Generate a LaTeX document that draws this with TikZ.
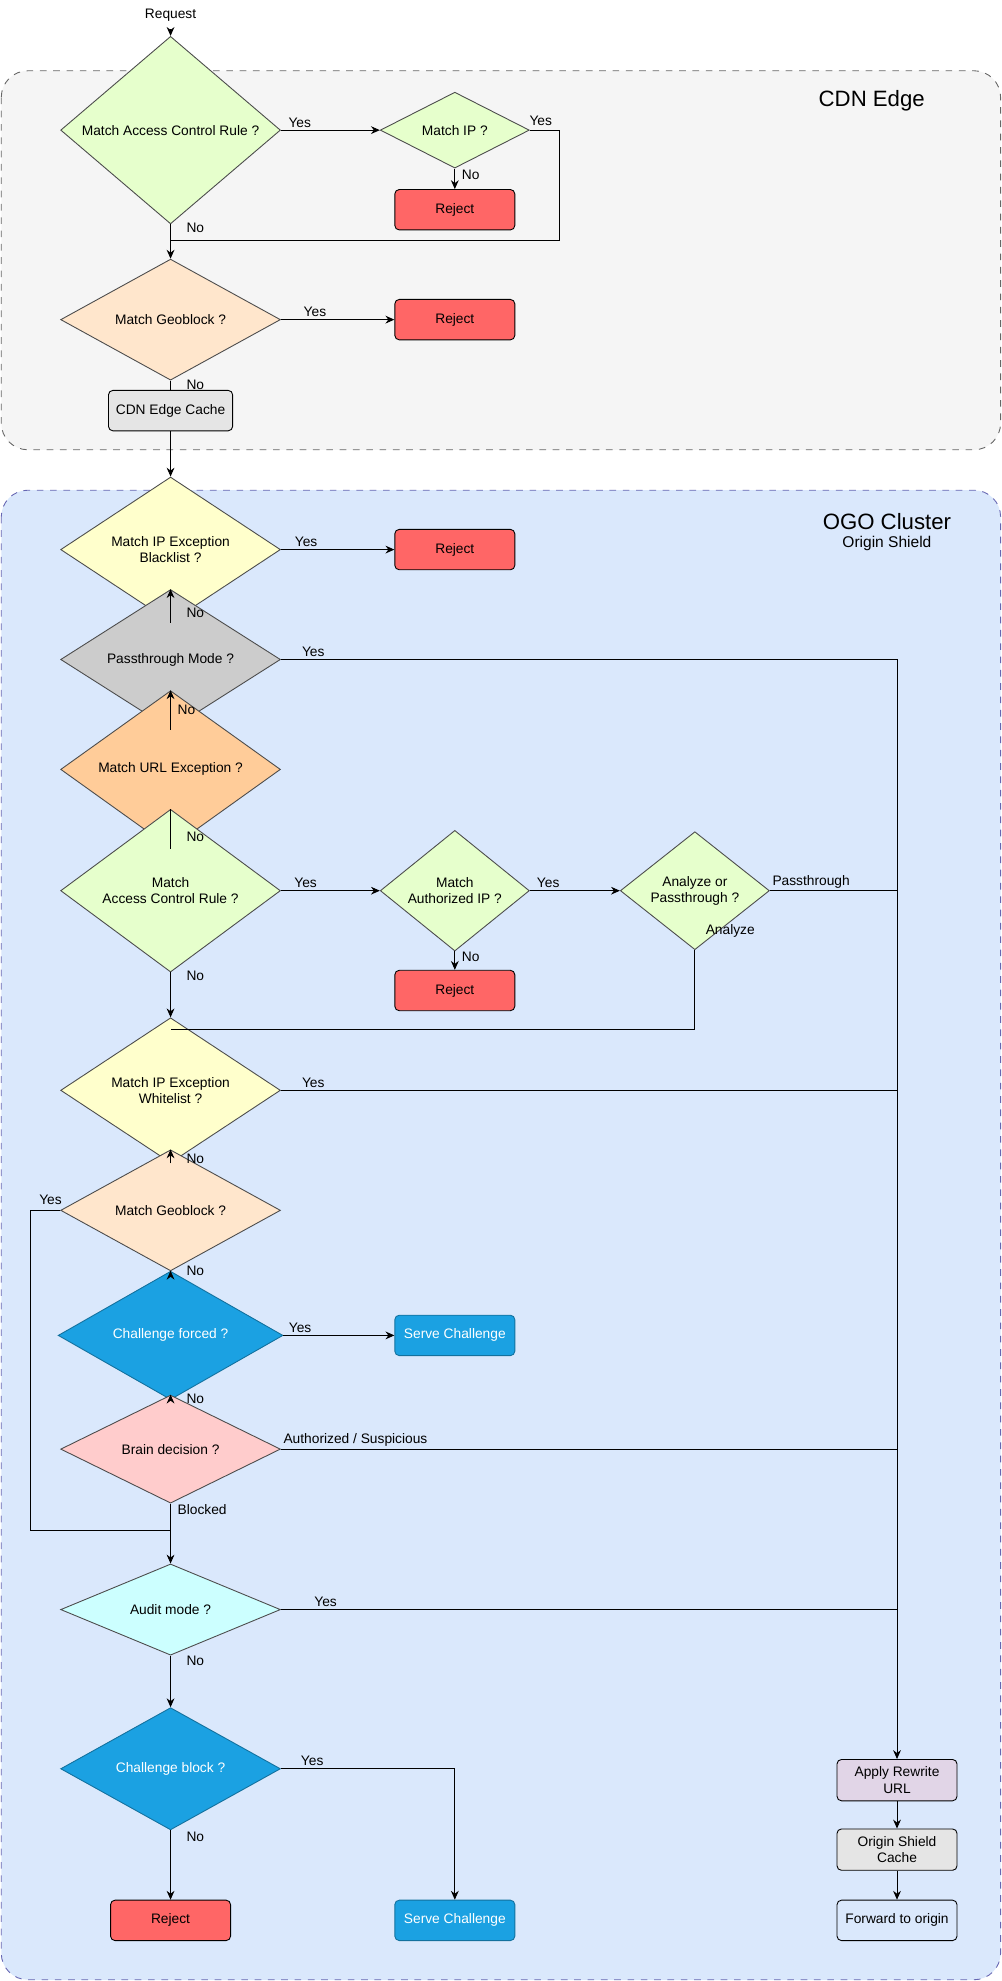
\documentclass[tikz,border=0pt]{standalone}
\usepackage{fontspec}
\setmainfont{Liberation Sans}
\usetikzlibrary{shapes.geometric,arrows.meta}
\begin{document}
\begin{tikzpicture}[x=0.02cm,y=-0.02cm,font=\fontsize{6.2}{7.4}\selectfont,
 dia/.style={diamond,draw=black!70,line width=0.4pt,inner sep=0pt,minimum width=3.48cm,minimum height=1.24cm,align=center},
 sdia/.style={dia,minimum width=2.36cm,minimum height=1.08cm},
 box/.style={rectangle,rounded corners=2pt,draw=black,line width=0.4pt,minimum width=1.9cm,minimum height=0.64cm,align=center},
 rej/.style={box,fill=red!60},
 chal/.style={box,fill=cchal,draw=cchal!70!black,text=white},
 ar/.style={-{Stealth[length=4pt,width=3.5pt]},line width=0.4pt},
 ln/.style={line width=0.4pt},
 lab/.style={inner sep=1pt}]
\definecolor{cchal}{HTML}{1BA1E2}
\useasboundingbox (0,0) rectangle (793,1568);
\draw[dashed,draw=black!60,fill=black!4,rounded corners=12pt] (1,56) rectangle (792,356);
\draw[dashed,draw=blue!50!black!60,fill=blue!15!cyan!5!white,fill={rgb,255:red,218;green,232;blue,252},rounded corners=12pt] (1,388) rectangle (792,1567);
\node[font=\fontsize{10}{12}\selectfont] at (690,80) {CDN Edge};
\node[font=\fontsize{10}{12}\selectfont] at (702,413) {OGO Cluster};
\node[font=\fontsize{7}{8}\selectfont] at (702,430) {Origin Shield};

\node (req) at (135,12) {Request};
\node[dia,fill={rgb,255:red,230;green,255;blue,204}] (d1) at (135,103) {Match Access Control Rule ?};
\node[sdia,fill={rgb,255:red,230;green,255;blue,204}] (d2) at (360,103) {Match IP ?};
\node[rej] (r1) at (360,166) {Reject};
\node[dia,fill={rgb,255:red,255;green,230;blue,204}] (d3) at (135,253) {Match Geoblock ?};
\node[rej] (r2) at (360,253) {Reject};
\node[box,fill=black!10] (cache) at (135,325) {CDN Edge Cache};
\node[dia,fill={rgb,255:red,255;green,255;blue,204}] (d4) at (135,435) {Match IP Exception\\Blacklist ?};
\node[rej] (r3) at (360,435) {Reject};
\node[dia,fill=black!20] (d5) at (135,522) {Passthrough Mode ?};
\node[dia,fill={rgb,255:red,255;green,204;blue,153}] (d6) at (135,609) {Match URL Exception ?};
\node[dia,fill={rgb,255:red,230;green,255;blue,204}] (d7) at (135,705) {Match\\Access Control Rule ?};
\node[sdia,fill={rgb,255:red,230;green,255;blue,204}] (d8) at (360,705) {Match\\Authorized IP ?};
\node[sdia,fill={rgb,255:red,230;green,255;blue,204}] (d9) at (550,705) {Analyze or\\Passthrough ?};
\node[rej] (r4) at (360,784) {Reject};
\node[dia,fill={rgb,255:red,255;green,255;blue,204}] (d10) at (135,863) {Match IP Exception\\Whitelist ?};
\node[dia,fill={rgb,255:red,255;green,230;blue,204}] (d11) at (135,958) {Match Geoblock ?};
\node[dia,fill=cchal,draw=cchal!70!black,text=white,minimum width=3.56cm,minimum height=1.08cm] (d12) at (135,1057) {Challenge forced ?};
\node[chal] (s1) at (360,1057) {Serve Challenge};
\node[dia,fill={rgb,255:red,255;green,204;blue,204}] (d13) at (135,1147) {Brain decision ?};
\node[dia,fill={rgb,255:red,204;green,255;blue,255}] (d14) at (135,1274) {Audit mode ?};
\node[dia,fill=cchal,draw=cchal!70!black,text=white] (d15) at (135,1400) {Challenge block ?};
\node[rej] (r5) at (135,1520) {Reject};
\node[chal] (s2) at (360,1520) {Serve Challenge};
\node[box,fill={rgb,255:red,225;green,213;blue,231}] (rw) at (710,1409) {Apply Rewrite\\URL};
\node[box,fill=black!10] (osc) at (710,1464) {Origin Shield\\Cache};
\node[box,fill={rgb,255:red,218;green,232;blue,252}] (fw) at (710,1520) {Forward to origin};

\coordinate (j1) at (135,190);
\coordinate (j2) at (135,815);
\coordinate (j3) at (135,1211);
\draw[ar] (req) -- (d1);
\draw[ar] (d1) -- (d2) node[lab,pos=0.05,above right] {Yes};
\draw[ar] (d2) -- (r1) node[lab,pos=0.3,right=2pt] {No};
\draw[ln] (d2.east) -| (443,190) -- (j1);
\node[lab] at (428,96) {Yes};
\draw[ar] (d1) -- (d3) node[lab,pos=0.1,right=6pt] {No};
\draw[ar] (d3) -- (r2) node[lab,pos=0.3,above] {Yes};
\draw[ln] (d3) -- (cache) node[lab,pos=0.5,right=6pt] {No};
\draw[ar] (cache) -- (d4);
\draw[ar] (d4) -- (r3) node[lab,pos=0.1,above right] {Yes};
\draw[ar] (d4) -- (d5) node[lab,pos=0.3,right=6pt] {No};
\draw[ln] (d5.east) -- (710,522) node[lab,pos=0.03,above right] {Yes};
\draw[ar] (d5) -- (d6) node[lab,pos=0.5,right=2pt] {No};
\draw[ln] (d6) -- (d7) node[lab,pos=0.3,right=6pt] {No};
\draw[ar] (d7) -- (d8) node[lab,pos=0.25,above] {Yes};
\draw[ar] (d8) -- (d9) node[lab,pos=0.05,above right] {Yes};
\draw[ar] (d8) -- (r4) node[lab,pos=0.3,right=2pt] {No};
\draw[ln] (d9.east) -- (710,705) node[lab,pos=0.0,above right] {Passthrough};
\draw[ln] (d9.south) |- (j2);
\node[lab] at (578,737) {Analyze};
\draw[ar] (d7) -- (d10) node[lab,pos=0.08,right=6pt] {No};
\draw[ln] (d10.east) -- (710,863) node[lab,pos=0.03,above right] {Yes};
\draw[ar] (d10) -- (d11) node[lab,pos=0.3,right=6pt] {No};
\draw[ln] (d11.west) -- (24,958) -- (24,1211) -- (j3);
\node[lab] at (40,950) {Yes};
\draw[ar] (d11) -- (d12) node[lab,pos=0.3,right=6pt] {No};
\draw[ar] (d12) -- (s1) node[lab,pos=0.15,above] {Yes};
\draw[ar] (d12) -- (d13) node[lab,pos=0.3,right=6pt] {No};
\draw[ln] (d13.east) -- (710,1147) node[lab,pos=0.0,above right] {Authorized / Suspicious};
\draw[ar] (d13) -- (d14) node[lab,pos=0.1,right=2pt] {Blocked};
\draw[ln] (d14.east) -- (710,1274) node[lab,pos=0.05,above right] {Yes};
\draw[ar] (d14) -- (d15) node[lab,pos=0.1,right=6pt] {No};
\draw[ar] (d15) -- (r5) node[lab,pos=0.1,right=6pt] {No};
\draw[ar] (d15.east) -| (s2) node[lab,pos=0.05,above right] {Yes};
\draw[ar] (710,522) -- (rw);
\draw[ar] (rw) -- (osc);
\draw[ar] (osc) -- (fw);
\end{tikzpicture}
\end{document}
